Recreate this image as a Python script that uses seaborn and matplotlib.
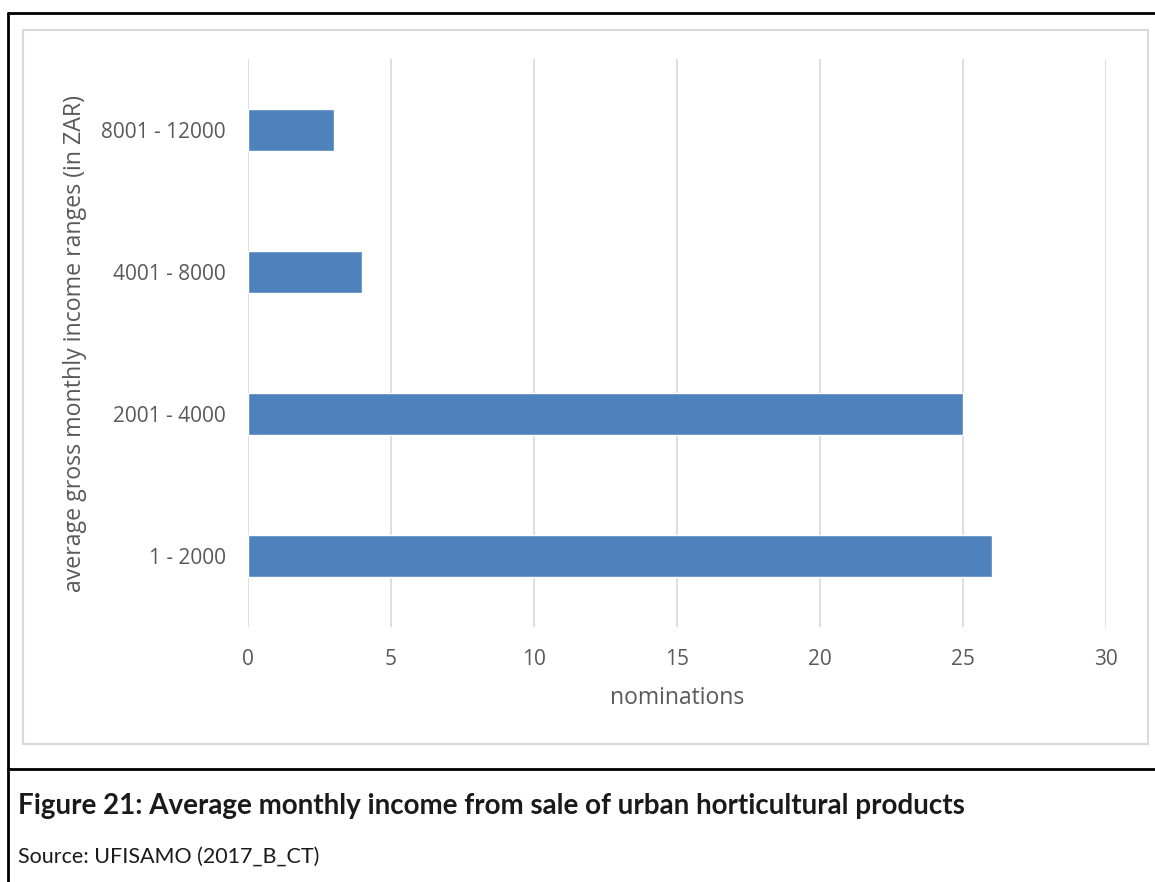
import matplotlib
matplotlib.use("Agg")
import matplotlib.pyplot as plt
from matplotlib.lines import Line2D
from matplotlib.patches import Rectangle
import seaborn as sns
import pandas as pd

categories = ["8001 - 12000", "4001 - 8000", "2001 - 4000", "1 - 2000"]
nominations = [3, 4, 25, 26]
x_ticks = [0, 5, 10, 15, 20, 25, 30]

sns.set_theme(style="white")
plt.rcParams['font.family'] = ['Open Sans', 'DejaVu Sans']

W, H = 1155, 882
fig = plt.figure(figsize=(W / 100, H / 100), dpi=100)
ax = fig.add_axes([248 / W, 1 - 627 / H, (1106 - 248) / W, (627 - 59) / H])

df = pd.DataFrame({"range": categories, "nominations": nominations})
sns.barplot(data=df, y="range", x="nominations", orient="h", color="#4F81BD",
            saturation=1, width=0.3, ax=ax, order=categories)

ax.set_xlim(0, 30)
ax.set_xticks(x_ticks)
ax.set_xticklabels([str(t) for t in x_ticks])
ax.grid(axis="x", color="#D9D9D9", linewidth=1.2)
ax.set_axisbelow(True)
for s in ax.spines.values():
    s.set_visible(False)
ax.tick_params(axis="both", length=0, labelsize=15, colors="#595959")
ax.tick_params(axis="y", pad=16)
ax.tick_params(axis="x", pad=16)
ax.set_xlabel("nominations", fontsize=16.5, color="#595959", labelpad=11)
ax.set_ylabel("average gross monthly income ranges (in ZAR)", fontsize=16.7,
              color="#595959", labelpad=10)

# light grey chart frame
fig.patches.append(Rectangle((23 / W, 1 - 744 / H), (1148 - 23) / W, (744 - 30) / H,
                             transform=fig.transFigure, fill=False,
                             edgecolor="#D9D9D9", linewidth=1.5))
# black outer lines
fig.lines.append(Line2D([8 / W, 1], [1 - 13 / H, 1 - 13 / H], transform=fig.transFigure,
                        color="black", linewidth=2))
fig.lines.append(Line2D([8 / W, 8 / W], [1 - 13 / H, 0], transform=fig.transFigure,
                        color="black", linewidth=2))
fig.lines.append(Line2D([8 / W, 1], [1 - 769 / H, 1 - 769 / H], transform=fig.transFigure,
                        color="black", linewidth=2))

fig.text(18 / W, 1 - 806 / H,
         "Figure 21: Average monthly income from sale of urban horticultural products",
         fontsize=20, fontweight="bold", color="#1a1a1a", va="center", ha="left",
         family=['Lato', 'DejaVu Sans'])
fig.text(18 / W, 1 - 857 / H, "Source: UFISAMO (2017_B_CT)",
         fontsize=15.5, color="#1a1a1a", va="center", ha="left",
         family=['Lato', 'DejaVu Sans'])

fig.savefig("out.png", dpi=100, facecolor="white")
